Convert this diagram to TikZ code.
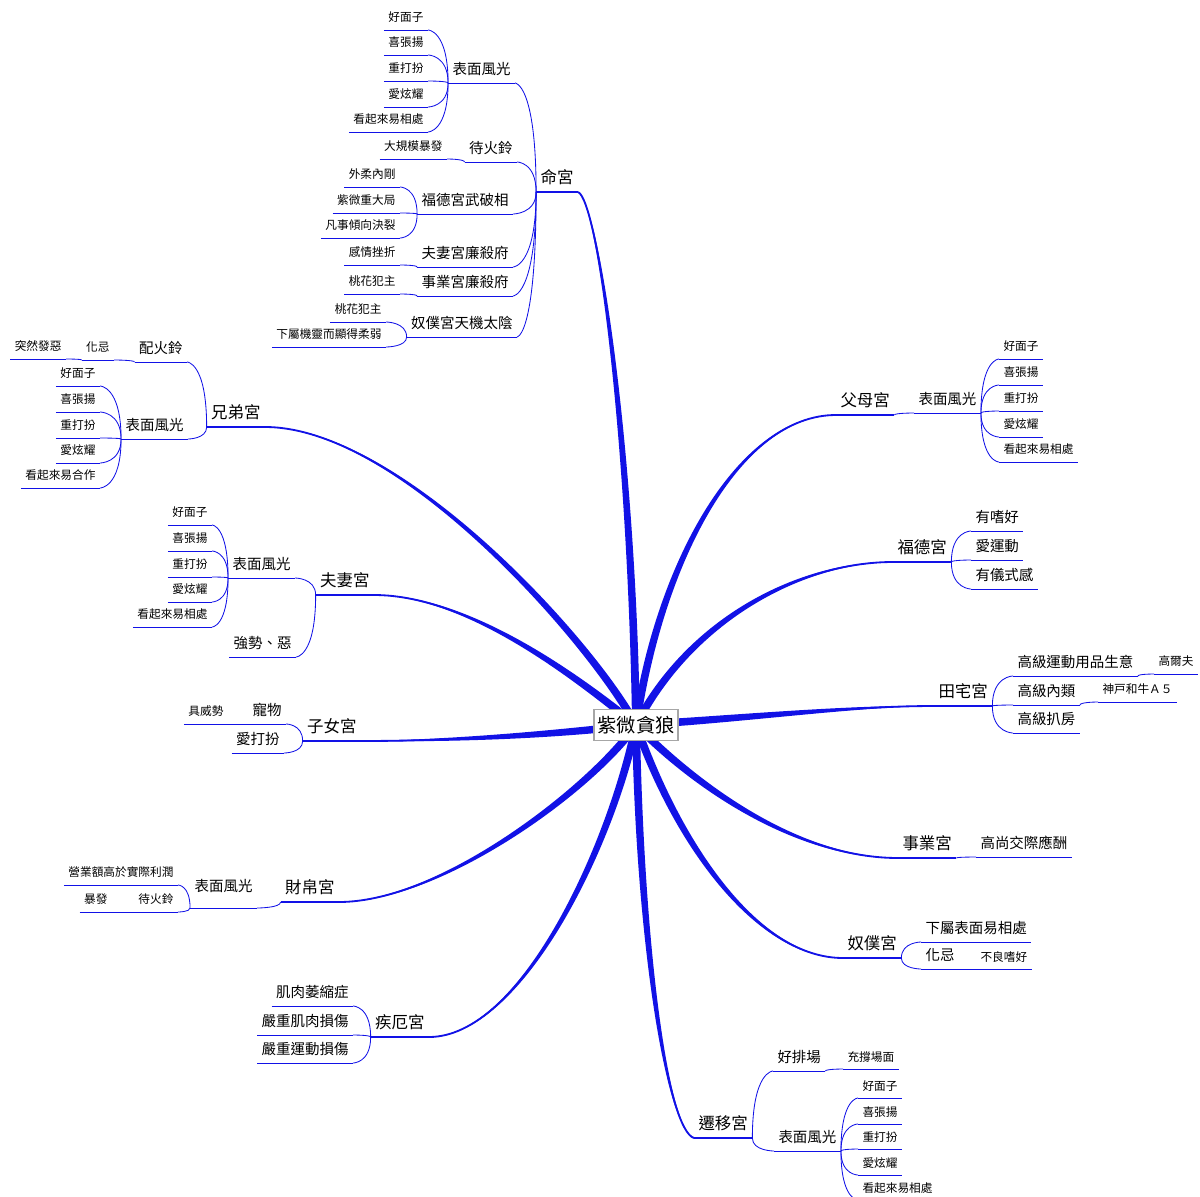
\documentclass[tikz,border=0pt]{standalone}
\usepackage{fontspec}
\setmainfont{Noto Sans CJK TC}
\usetikzlibrary{calc}

\definecolor{mapblue}{RGB}{18,18,230}

\tikzset{
  mapline/.style={draw=mapblue, line width=0.6pt},
  ul/.style={append after command={(\tikzlastnode.south west) edge[mapline] (\tikzlastnode.south east)}},
  ulthick/.style={append after command={(\tikzlastnode.south west) edge[mapline, line width=1.1pt] (\tikzlastnode.south east)}},
  twig/.style={mapline, to path={.. controls (\tikztostart |- \tikztotarget) and (\tikztotarget) .. (\tikztotarget)}},
  leaf/.style={ul, inner xsep=3pt, inner ysep=4.5pt, text height=7.3pt, text depth=1pt, font=\fontsize{8.3}{10}\selectfont},
  sub/.style={ul, inner xsep=3pt, inner ysep=4.5pt, text height=9.1pt, text depth=1.2pt, font=\fontsize{10.3}{12}\selectfont},
  palace/.style={ulthick, inner xsep=3pt, inner ysep=4.5pt, text height=10.3pt, text depth=1.4pt, font=\fontsize{11.7}{14}\selectfont},
  hub/.style={draw=gray!70, fill=white, line width=0.8pt, inner xsep=2.5pt, inner ysep=4pt, text height=12.1pt, text depth=1.6pt, font=\fontsize{13.7}{16}\selectfont},
  lside/.style={anchor=south east},
  rside/.style={anchor=south west}
}

% tapered main branch: ctrl1, ctrl2, end
\newcommand{\trunk}[3]{%
  \fill[mapblue] ($(Hub)!2.8pt!90:(#1)$)
    .. controls ($(#1)!2.8pt!90:(#2)$) and ($(#2)!0.9pt!90:(#3)$) .. (#3)
    .. controls ($(#2)!0.9pt!-90:(#3)$) and ($(#1)!2.8pt!-90:(#2)$) .. ($(Hub)!2.8pt!-90:(#1)$) -- cycle;
  \draw[mapblue, line width=1.3pt] (Hub) .. controls (#1) and (#2) .. (#3);
}

\begin{document}
\begin{tikzpicture}[x=0.025cm, y=-0.025cm]
  \useasboundingbox (0,0) rectangle (1200,1196);

  \coordinate (Hub) at (636,725);

  % left side
  \node[palace, lside] (Ming) at (578,192) {命宮};
  \node[sub, lside] (Ming1) at (515,83) {表面風光};
  \node[leaf, lside] (Ming1a) at (428,30) {好面子};
  \node[leaf, lside] (Ming1b) at (428,55) {喜張揚};
  \node[leaf, lside] (Ming1c) at (428,81) {重打扮};
  \node[leaf, lside] (Ming1d) at (428,107) {愛炫耀};
  \node[leaf, lside] (Ming1e) at (428,132) {看起來易相處};
  \node[sub, lside] (Ming2) at (517,162) {待火鈴};
  \node[leaf, lside] (Ming2a) at (447,159) {大規模暴發};
  \node[sub, lside] (Ming3) at (513,214) {福德宮武破相};
  \node[leaf, lside] (Ming3a) at (400,187) {外柔內剛};
  \node[leaf, lside] (Ming3b) at (400,213) {紫微重大局};
  \node[leaf, lside] (Ming3c) at (400,238) {凡事傾向決裂};
  \node[sub, lside] (Ming4) at (513,267) {夫妻宮廉殺府};
  \node[leaf, lside] (Ming4a) at (400,265) {感情挫折};
  \node[sub, lside] (Ming5) at (513,296) {事業宮廉殺府};
  \node[leaf, lside] (Ming5a) at (400,294) {桃花犯主};
  \node[sub, lside] (Ming6) at (517,337) {奴僕宮天機太陰};
  \node[leaf, lside] (Ming6a) at (386,322) {桃花犯主};
  \node[leaf, lside] (Ming6b) at (386,347) {下屬機靈而顯得柔弱};

  \node[palace, lside] (Xiong) at (265,427) {兄弟宮};
  \node[sub, lside] (Xiong1) at (187,362) {配火鈴};
  \node[leaf, lside] (Xiong1a) at (114,360) {化忌};
  \node[leaf, lside] (Xiong1b) at (66,359) {突然發惡};
  \node[sub, lside] (Xiong2) at (188,439) {表面風光};
  \node[leaf, lside] (Xiong2a) at (100,386) {好面子};
  \node[leaf, lside] (Xiong2b) at (100,412) {喜張揚};
  \node[leaf, lside] (Xiong2c) at (100,438) {重打扮};
  \node[leaf, lside] (Xiong2d) at (100,463) {愛炫耀};
  \node[leaf, lside] (Xiong2e) at (100,488) {看起來易合作};

  \node[palace, lside] (Fuqi) at (374,595) {夫妻宮};
  \node[sub, lside] (Fuqi1) at (295,578) {表面風光};
  \node[leaf, lside] (Fuqi1a) at (212,525) {好面子};
  \node[leaf, lside] (Fuqi1b) at (212,551) {喜張揚};
  \node[leaf, lside] (Fuqi1c) at (212,577) {重打扮};
  \node[leaf, lside] (Fuqi1d) at (212,602) {愛炫耀};
  \node[leaf, lside] (Fuqi1e) at (212,627) {看起來易相處};
  \node[sub, lside] (Fuqi2) at (296,657) {強勢、惡};

  \node[palace, lside] (Zinv) at (361,741) {子女宮};
  \node[sub, lside] (Zinv1) at (286,724) {寵物};
  \node[leaf, lside] (Zinv1a) at (228,724) {具威勢};
  \node[sub, lside] (Zinv2) at (284,753) {愛打扮};

  \node[palace, lside] (Cai) at (339,902) {財帛宮};
  \node[sub, lside, inner ysep=10pt] (Cai1) at (257,908) {表面風光};
  \node[leaf, lside] (Cai1a) at (178,885) {營業額高於實際利潤};
  \node[leaf, lside] (Cai1b) at (178,912) {待火鈴};
  \node[leaf, lside] (Cai1b1) at (112,912) {暴發};

  \node[palace, lside] (Jie) at (429,1037) {疾厄宮};
  \node[sub, lside] (Jie1) at (353,1006) {肌肉萎縮症};
  \node[sub, lside] (Jie2) at (353,1035) {嚴重肌肉損傷};
  \node[sub, lside] (Jie3) at (353,1063) {嚴重運動損傷};

  % right side
  \node[palace, rside] (Fumu) at (836,415) {父母宮};
  \node[sub, rside] (Fumu1) at (914,413) {表面風光};
  \node[leaf, rside] (Fumu1a) at (999,359) {好面子};
  \node[leaf, rside] (Fumu1b) at (999,385) {喜張揚};
  \node[leaf, rside] (Fumu1c) at (999,411) {重打扮};
  \node[leaf, rside] (Fumu1d) at (999,437) {愛炫耀};
  \node[leaf, rside] (Fumu1e) at (999,462) {看起來易相處};

  \node[palace, rside] (Fude) at (893,562) {福德宮};
  \node[sub, rside] (Fude1) at (971,531) {有嗜好};
  \node[sub, rside] (Fude2) at (971,560) {愛運動};
  \node[sub, rside] (Fude3) at (971,589) {有儀式感};

  \node[palace, rside] (Tian) at (934,706) {田宅宮};
  \node[sub, rside] (Tian1) at (1013,676) {高級運動用品生意};
  \node[leaf, rside] (Tian1a) at (1154,674) {高爾夫};
  \node[sub, rside] (Tian2) at (1013,705) {高級內類};
  \node[leaf, rside] (Tian2a) at (1098,702) {神戸和牛Ａ５};
  \node[sub, rside] (Tian3) at (1013,733) {高級扒房};

  \node[palace, rside] (Shiye) at (898,858) {事業宮};
  \node[sub, rside] (Shiye1) at (976,857) {高尚交際應酬};

  \node[palace, rside] (Nupu) at (843,958) {奴僕宮};
  \node[sub, rside] (Nupu1) at (921,942) {下屬表面易相處};
  \node[sub, rside] (Nupu2) at (921,969) {化忌};
  \node[leaf, rside] (Nupu2a) at (976,969) {不良嗜好};

  \node[palace, rside] (Qian) at (694,1138) {遷移宮};
  \node[sub, rside] (Qian1) at (773,1071) {好排場};
  \node[leaf, rside] (Qian1a) at (843,1069) {充撐場面};
  \node[sub, rside] (Qian2) at (774,1151) {表面風光};
  \node[leaf, rside] (Qian2a) at (858,1098) {好面子};
  \node[leaf, rside] (Qian2b) at (858,1124) {喜張揚};
  \node[leaf, rside] (Qian2c) at (858,1149) {重打扮};
  \node[leaf, rside] (Qian2d) at (858,1175) {愛炫耀};
  \node[leaf, rside] (Qian2e) at (858,1200) {看起來易相處};

  % twigs, left side
  \draw[twig] (Ming.south west) to (Ming1.south east);
  \draw[twig] (Ming.south west) to (Ming2.south east);
  \draw[twig] (Ming.south west) to (Ming3.south east);
  \draw[twig] (Ming.south west) to (Ming4.south east);
  \draw[twig] (Ming.south west) to (Ming5.south east);
  \draw[twig] (Ming.south west) to (Ming6.south east);
  \draw[twig] (Ming1.south west) to (Ming1a.south east);
  \draw[twig] (Ming1.south west) to (Ming1b.south east);
  \draw[twig] (Ming1.south west) to (Ming1c.south east);
  \draw[twig] (Ming1.south west) to (Ming1d.south east);
  \draw[twig] (Ming1.south west) to (Ming1e.south east);
  \draw[twig] (Ming2.south west) to (Ming2a.south east);
  \draw[twig] (Ming3.south west) to (Ming3a.south east);
  \draw[twig] (Ming3.south west) to (Ming3b.south east);
  \draw[twig] (Ming3.south west) to (Ming3c.south east);
  \draw[twig] (Ming4.south west) to (Ming4a.south east);
  \draw[twig] (Ming5.south west) to (Ming5a.south east);
  \draw[twig] (Ming6.south west) to (Ming6a.south east);
  \draw[twig] (Ming6.south west) to (Ming6b.south east);

  \draw[twig] (Xiong.south west) to (Xiong1.south east);
  \draw[twig] (Xiong.south west) to (Xiong2.south east);
  \draw[twig] (Xiong1.south west) to (Xiong1a.south east);
  \draw[twig] (Xiong1a.south west) to (Xiong1b.south east);
  \draw[twig] (Xiong2.south west) to (Xiong2a.south east);
  \draw[twig] (Xiong2.south west) to (Xiong2b.south east);
  \draw[twig] (Xiong2.south west) to (Xiong2c.south east);
  \draw[twig] (Xiong2.south west) to (Xiong2d.south east);
  \draw[twig] (Xiong2.south west) to (Xiong2e.south east);

  \draw[twig] (Fuqi.south west) to (Fuqi1.south east);
  \draw[twig] (Fuqi.south west) to (Fuqi2.south east);
  \draw[twig] (Fuqi1.south west) to (Fuqi1a.south east);
  \draw[twig] (Fuqi1.south west) to (Fuqi1b.south east);
  \draw[twig] (Fuqi1.south west) to (Fuqi1c.south east);
  \draw[twig] (Fuqi1.south west) to (Fuqi1d.south east);
  \draw[twig] (Fuqi1.south west) to (Fuqi1e.south east);

  \draw[twig] (Zinv.south west) to (Zinv1.south east);
  \draw[twig] (Zinv.south west) to (Zinv2.south east);
  \draw[twig] (Zinv1.south west) to (Zinv1a.south east);

  \draw[twig] (Cai.south west) to (Cai1.south east);
  \draw[twig] (Cai1.south west) to (Cai1a.south east);
  \draw[twig] (Cai1.south west) to (Cai1b.south east);
  \draw[twig] (Cai1b.south west) to (Cai1b1.south east);

  \draw[twig] (Jie.south west) to (Jie1.south east);
  \draw[twig] (Jie.south west) to (Jie2.south east);
  \draw[twig] (Jie.south west) to (Jie3.south east);

  % twigs, right side
  \draw[twig] (Fumu.south east) to (Fumu1.south west);
  \draw[twig] (Fumu1.south east) to (Fumu1a.south west);
  \draw[twig] (Fumu1.south east) to (Fumu1b.south west);
  \draw[twig] (Fumu1.south east) to (Fumu1c.south west);
  \draw[twig] (Fumu1.south east) to (Fumu1d.south west);
  \draw[twig] (Fumu1.south east) to (Fumu1e.south west);

  \draw[twig] (Fude.south east) to (Fude1.south west);
  \draw[twig] (Fude.south east) to (Fude2.south west);
  \draw[twig] (Fude.south east) to (Fude3.south west);

  \draw[twig] (Tian.south east) to (Tian1.south west);
  \draw[twig] (Tian.south east) to (Tian2.south west);
  \draw[twig] (Tian.south east) to (Tian3.south west);
  \draw[twig] (Tian1.south east) to (Tian1a.south west);
  \draw[twig] (Tian2.south east) to (Tian2a.south west);

  \draw[twig] (Shiye.south east) to (Shiye1.south west);

  \draw[twig] (Nupu.south east) to (Nupu1.south west);
  \draw[twig] (Nupu.south east) to (Nupu2.south west);
  \draw[twig] (Nupu2.south east) to (Nupu2a.south west);

  \draw[twig] (Qian.south east) to (Qian1.south west);
  \draw[twig] (Qian.south east) to (Qian2.south west);
  \draw[twig] (Qian1.south east) to (Qian1a.south west);
  \draw[twig] (Qian2.south east) to (Qian2a.south west);
  \draw[twig] (Qian2.south east) to (Qian2b.south west);
  \draw[twig] (Qian2.south east) to (Qian2c.south west);
  \draw[twig] (Qian2.south east) to (Qian2d.south west);
  \draw[twig] (Qian2.south east) to (Qian2e.south west);

  % main branches
  \trunk{632,450}{598,200}{Ming.south east}
  \trunk{590,640}{400,427}{Xiong.south east}
  \trunk{580,680}{470,595}{Fuqi.south east}
  \trunk{550,735}{450,741}{Zinv.south east}
  \trunk{590,790}{440,902}{Cai.south east}
  \trunk{610,850}{520,1037}{Jie.south east}
  \trunk{660,560}{740,415}{Fumu.south west}
  \trunk{690,620}{800,562}{Fude.south west}
  \trunk{750,718}{850,706}{Tian.south west}
  \trunk{700,790}{800,858}{Shiye.south west}
  \trunk{680,850}{760,958}{Nupu.south west}
  \trunk{640,950}{668,1130}{Qian.south west}

  \node[hub] (Root) at (Hub) {紫微貪狼};
\end{tikzpicture}
\end{document}
